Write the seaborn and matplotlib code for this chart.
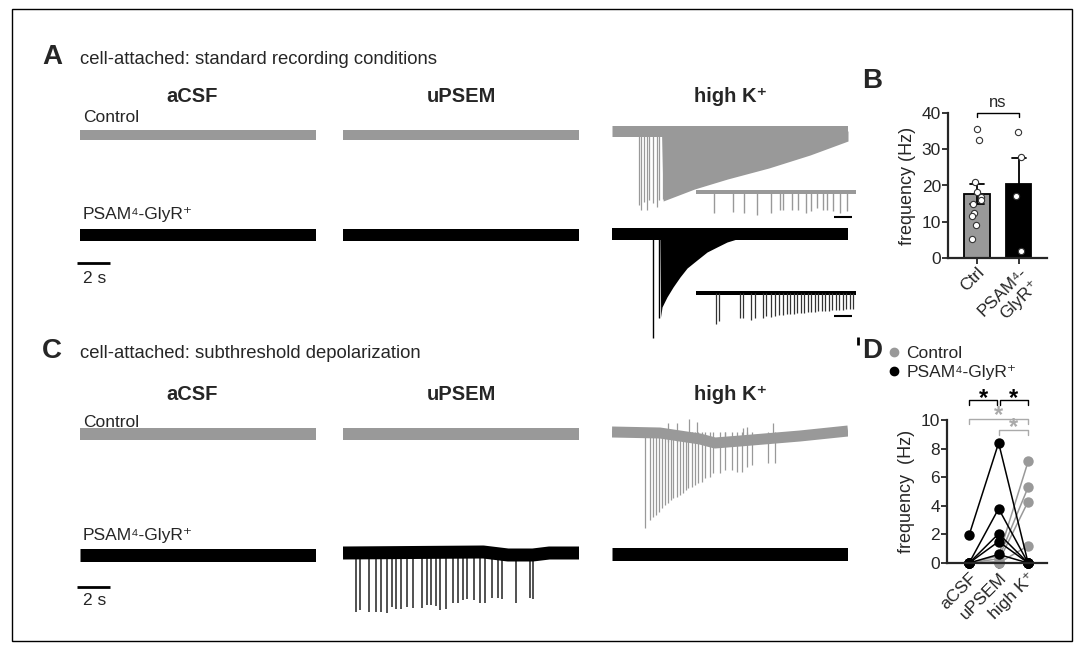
import numpy as np
import pandas as pd
import matplotlib
matplotlib.use('Agg')
import matplotlib.pyplot as plt
import seaborn as sns
from matplotlib.patches import Rectangle
from matplotlib.lines import Line2D

# ---------------- data ----------------
GREY = '#999999'
T_END = 14.3          # seconds shown per trace (2 s bar = 33 px)
INSET_T_END = 4.44    # seconds shown in the high K insets (bar = 0.5 s)

# A, high K, Control: isolated spikes then dense burst (envelope)
a_ctrl_hk_spike_t = [1.64, 1.76, 1.94, 2.12, 2.24, 2.48, 2.73, 2.85, 3.09]
a_ctrl_hk_spike_d = [74, 79, 71, 79, 69, 72, 76, 69, 68]
a_ctrl_hk_env_t = [3.0, 3.1, 5.0, 7.0, 9.5, 12.0, 14.3]
a_ctrl_hk_env_d = [0, 70, 58, 48, 37, 24, 10]

# A, high K, PSAM4-GlyR+
a_psam_hk_spike_t = [2.48, 2.85]
a_psam_hk_spike_d = [104, 84]
a_psam_hk_env_t = [2.9, 2.95, 3.03, 3.33, 3.70, 4.12, 4.55, 5.15, 5.76, 6.36, 6.97, 7.76, 8.55, 9.39]
a_psam_hk_env_d = [0, 83, 73, 63, 53, 43, 34, 26, 18, 13, 8, 4, 1, 0]

# A insets (expanded time)
inset_ctrl_t = [0.50, 1.03, 1.33, 1.69, 2.08, 2.33, 2.42, 2.67, 2.83, 3.06, 3.19,
                3.36, 3.53, 3.64, 3.81, 4.00, 4.19]
inset_ctrl_d = [21, 20, 21, 23, 21, 18, 18, 18, 18, 21, 19, 16, 18, 18, 19, 21, 19]
inset_psam_t = [0.56, 0.64, 1.22, 1.31, 1.53, 1.64, 1.86, 1.94, 2.08, 2.19, 2.31,
                2.42, 2.53, 2.61, 2.72, 2.81, 2.92, 3.00, 3.11, 3.19, 3.31, 3.39,
                3.50, 3.58, 3.69, 3.78, 3.89, 3.97, 4.08, 4.17, 4.28, 4.36]
inset_psam_d = [31, 28, 25, 25, 27, 25, 25, 23, 24, 23, 22, 22, 21, 21, 21, 20,
                20, 20, 19, 19, 19, 18, 18, 18, 18, 17, 17, 17, 17, 16, 16, 16]

# C, high K, Control: slow baseline drift + spikes
c_ctrl_hk_base_t = [0, 2.9, 5.33, 6.24, 7.76, 11.39, 14.3]
c_ctrl_hk_base_v = [0, -1, -7, -11, -9, -4, 1]
c_ctrl_hk_spike_t = [2.0, 2.3, 2.5, 2.67, 2.87, 3.01, 3.21, 3.41, 3.56, 3.72, 3.92,
                     4.12, 4.32, 4.48, 4.62, 4.83, 5.03, 5.23, 5.44, 5.64, 5.94, 6.14,
                     6.55, 6.85, 7.25, 7.56, 7.86, 8.16, 8.47, 9.47, 9.88]
c_ctrl_hk_spike_d = [96, 88, 85, 83, 80, 76, 73, 71, 68, 66, 65, 63, 61, 58, 56, 55,
                     53, 51, 50, 46, 45, 41, 41, 38, 38, 40, 40, 35, 33, 31, 31]
c_ctrl_hk_up_t = [3.41, 3.92, 4.69, 5.13, 6.85, 7.96, 8.16, 9.74]
c_ctrl_hk_up_h = [9, 9, 13, 10, 0, 4, 5, 9]

# C, uPSEM, PSAM4-GlyR+
c_psam_up_base_t = [0, 8.5, 10.0, 11.5, 12.5, 14.3]
c_psam_up_base_v = [0, 1, -2, -2, 0, 0]
c_psam_up_spike_t = [0.79, 1.03, 1.59, 2.0, 2.28, 2.65, 2.97, 3.19, 3.52, 3.86, 4.22,
                     4.77, 5.11, 5.31, 5.64, 5.88, 6.24, 6.69, 6.99, 7.29, 7.53, 7.94,
                     8.30, 8.61, 9.01, 9.38, 9.62, 10.47, 11.33, 11.54]
c_psam_up_spike_d = [59, 57, 59, 59, 59, 60, 54, 56, 56, 54, 55, 55, 52, 52, 53, 57,
                     56, 50, 50, 47, 46, 47, 50, 50, 45, 45, 46, 50, 45, 46]

# B: spontaneous frequency in high K
ctrl_freq = [35.6, 32.6, 21.1, 18.1, 16.8, 16.1, 15.0, 12.4, 11.7, 9.2, 5.2]
psam_freq = [34.7, 27.8, 17.1, 2.0]
groups_b = ['Ctrl', 'PSAM⁴-\nGlyR⁺']

# D: frequency per cell (aCSF, uPSEM, high K)
conds_d = ['aCSF', 'uPSEM', 'high K⁺']
ctrl_d = [[0, 0.5, 7.1], [0, 0.3, 5.3], [0, 0.1, 4.3], [0, 0, 1.2], [0, 0, 0]]
psam_d = [[1.95, 8.4, 0], [0, 3.8, 0], [0, 2.05, 0], [0, 1.5, 0], [0, 0.6, 0]]

# ---------------- figure ----------------
sns.set_style('ticks')
plt.rcParams['font.family'] = ['Liberation Sans', 'DejaVu Sans']

W, H = 1083, 652
fig = plt.figure(figsize=(W / 100, H / 100), dpi=100)
fig.add_artist(Rectangle((12 / W, 1 - 641 / H), 1060 / W, 632 / H, fill=False,
                         edgecolor='black', lw=1, transform=fig.transFigure))


def px_ax(x0, y0, x1, y1):
    return fig.add_axes([x0 / W, 1 - y1 / H, (x1 - x0) / W, (y1 - y0) / H])


def trace_ax(x0, y_base, width=236, t_end=T_END, up=25, down=115):
    # y data unit = 1 px, baseline at 0
    ax = px_ax(x0, y_base - up, x0 + width, y_base + down)
    ax.set_xlim(0, t_end)
    ax.set_ylim(-down, up)
    ax.axis('off')
    return ax


def baseline(ax, color, thick, t=None, v=None, t_end=T_END):
    if t is None:
        t, v = [0, t_end], [0, 0]
    ax.plot(t, v, color=color, lw=thick * 0.72, solid_capstyle='butt')


def ftext(x, y, s, **kw):
    fig.text(x / W, 1 - y / H, s, **kw)


X_COLS = [80, 343, 612]

# ----- panel A traces -----
for x0 in X_COLS[:2]:
    baseline(trace_ax(x0, 135), GREY, 10)
    baseline(trace_ax(x0, 235), 'black', 12)

ax = trace_ax(612, 131)
baseline(ax, GREY, 11)
ax.vlines(a_ctrl_hk_spike_t, -np.array(a_ctrl_hk_spike_d), 0, color=GREY, lw=0.9)
ax.fill_between(a_ctrl_hk_env_t, 0, -np.array(a_ctrl_hk_env_d), color=GREY, lw=0)

ax = trace_ax(612, 234)
baseline(ax, 'black', 12)
ax.vlines(a_psam_hk_spike_t, -np.array(a_psam_hk_spike_d), 0, color='black', lw=1)
ax.fill_between(a_psam_hk_env_t, 0, -np.array(a_psam_hk_env_d), color='black', lw=0)
ax.vlines([14.9], -111, -103, color='black', lw=2, clip_on=False)

ax = trace_ax(696, 192, width=160, t_end=INSET_T_END, up=10, down=40)
baseline(ax, GREY, 4, t_end=INSET_T_END)
ax.vlines(inset_ctrl_t, -np.array(inset_ctrl_d), 0, color=GREY, lw=1)
ax.hlines(-25, INSET_T_END - 0.5 - 0.1, INSET_T_END - 0.1, color='black', lw=1.5)

ax = trace_ax(696, 293, width=160, t_end=INSET_T_END, up=10, down=40)
baseline(ax, 'black', 4, t_end=INSET_T_END)
ax.vlines(inset_psam_t, -np.array(inset_psam_d), 0, color='#333333', lw=0.9)
ax.hlines(-23, INSET_T_END - 0.5 - 0.1, INSET_T_END - 0.1, color='black', lw=1.5)

# ----- panel C traces -----
for x0 in X_COLS[:2]:
    baseline(trace_ax(x0, 434), GREY, 12)
baseline(trace_ax(80, 555), 'black', 13)
baseline(trace_ax(612, 554), 'black', 13)

ax = trace_ax(612, 432)
ax.vlines(c_ctrl_hk_spike_t, -np.array(c_ctrl_hk_spike_d), 0, color=GREY, lw=0.9)
ax.vlines(c_ctrl_hk_up_t, -10, c_ctrl_hk_up_h, color=GREY, lw=0.9)
baseline(ax, GREY, 11, c_ctrl_hk_base_t, c_ctrl_hk_base_v)

ax = trace_ax(343, 553)
ax.vlines(c_psam_up_spike_t, -np.array(c_psam_up_spike_d), 0, color='#222222', lw=1.1)
baseline(ax, 'black', 13, c_psam_up_base_t, c_psam_up_base_v)

# 2 s scale bars
for y_bar in (263, 587):
    ax = trace_ax(80, y_bar)
    ax.hlines(0, -0.18, 1.82, color='black', lw=2, clip_on=False)
ftext(83, 283, '2 s', fontsize=12.5, va='baseline')
ftext(83, 605, '2 s', fontsize=12.5, va='baseline')

# ----- text labels -----
ftext(42, 64, 'A', fontsize=20, fontweight='bold', va='baseline')
ftext(80, 64, 'cell-attached: standard recording conditions', fontsize=13.3, va='baseline')
ftext(42, 358, 'C', fontsize=20, fontweight='bold', va='baseline')
ftext(80, 358, 'cell-attached: subthreshold depolarization', fontsize=13.3, va='baseline')
ftext(862, 88, 'B', fontsize=20, fontweight='bold', va='baseline')
ftext(862, 358, 'D', fontsize=20, fontweight='bold', va='baseline')

for y_head in (102, 400):
    ftext(192, y_head, 'aCSF', fontsize=14.5, fontweight='bold', ha='center', va='baseline')
    ftext(461, y_head, 'uPSEM', fontsize=14.5, fontweight='bold', ha='center', va='baseline')
    ftext(731, y_head, 'high K⁺', fontsize=14.5, fontweight='bold',
          ha='center', va='baseline')
ftext(83, 122, 'Control', fontsize=12.5, va='baseline')
ftext(83, 427, 'Control', fontsize=12.5, va='baseline')
ftext(83, 219, 'PSAM⁴-GlyR⁺', fontsize=12.5, va='baseline')
ftext(83, 540, 'PSAM⁴-GlyR⁺', fontsize=12.5, va='baseline')

# ----- panel B -----
df_b = pd.DataFrame({
    'group': [groups_b[0]] * len(ctrl_freq) + [groups_b[1]] * len(psam_freq),
    'freq': ctrl_freq + psam_freq,
})
np.random.seed(3)
axB = px_ax(948, 113, 1047, 258)
sns.barplot(data=df_b, x='group', y='freq', hue='group', order=groups_b,
            hue_order=groups_b, palette=[GREY, 'black'], errorbar='se', capsize=0.35,
            err_kws={'color': 'black', 'linewidth': 1.3}, width=0.6,
            edgecolor='black', linewidth=1.3, legend=False, ax=axB)
sns.stripplot(data=df_b, x='group', y='freq', order=groups_b, jitter=0.13,
              color='white', edgecolor='#333333', linewidth=0.8, size=4.5, ax=axB)
axB.set_xlim(-0.69, 1.67)
axB.set_ylim(0, 40)
axB.set_yticks([0, 10, 20, 30, 40])
axB.set_xlabel('')
axB.set_ylabel('frequency (Hz)', fontsize=13)
axB.plot([0, 0, 1, 1], [38.8, 40, 40, 38.8], color='black', lw=1, clip_on=False)
axB.text(0.5, 40.8, 'ns', ha='center', va='bottom', fontsize=12)

# ----- panel D -----
rows = []
for grp, cells in (('Control', ctrl_d), ('PSAM', psam_d)):
    for i, vals in enumerate(cells):
        for c, v in zip(conds_d, vals):
            rows.append({'group': grp, 'cell': i, 'cond': c, 'freq': v})
df_d = pd.DataFrame(rows)

axD = px_ax(947, 420, 1047, 563)
for grp, col in (('Control', GREY), ('PSAM', 'black')):
    sns.lineplot(data=df_d[df_d['group'] == grp], x='cond', y='freq', units='cell',
                 estimator=None, sort=False, color=col, marker='o', markersize=7.5,
                 markeredgewidth=0, lw=1.1, clip_on=False, ax=axD)
axD.set_xlim(-0.75, 2.64)
axD.set_ylim(0, 10)
axD.set_yticks([0, 2, 4, 6, 8, 10])
axD.set_xlabel('')
axD.set_ylabel('frequency  (Hz)', fontsize=13)


def bracket(ax, x0, x1, y, col, star_x, star_y, tick=0.35):
    ax.plot([x0, x0, x1, x1], [y - tick, y, y, y - tick], color=col, lw=1, clip_on=False)
    ax.text(star_x, star_y, '*', color=col, ha='center', va='center', fontsize=17,
            fontweight='bold', clip_on=False)


bracket(axD, 0, 0.96, 11.4, 'black', 0.48, 11.5)
bracket(axD, 1.04, 2, 11.4, 'black', 1.52, 11.5)
bracket(axD, 0, 2, 10.1, '#aaaaaa', 1.0, 10.3)
bracket(axD, 1.0, 2, 9.3, '#aaaaaa', 1.5, 9.5)

handles = [Line2D([], [], ls='', marker='o', color=GREY, markersize=6),
           Line2D([], [], ls='', marker='o', color='black', markersize=6)]
fig.legend(handles, ['Control', 'PSAM⁴-GlyR⁺'], loc='upper left',
           bbox_to_anchor=(877 / W, 1 - 337 / H), frameon=False, fontsize=12.5,
           handletextpad=0.2, labelspacing=0.25, borderpad=0, handlelength=1.0)

for ax in (axB, axD):
    sns.despine(ax=ax)
    for s in ('left', 'bottom'):
        ax.spines[s].set_linewidth(1.6)
    ax.tick_params(width=1.3, length=4, labelsize=12.5, pad=1)
    for lab in ax.get_xticklabels():
        lab.set_rotation(45)
        lab.set_ha('right')
        lab.set_rotation_mode('anchor')
axD.set_xticks(range(3))
axD.set_xticklabels(conds_d, rotation=45, ha='right', rotation_mode='anchor')

fig.savefig('out.png', dpi=100)
